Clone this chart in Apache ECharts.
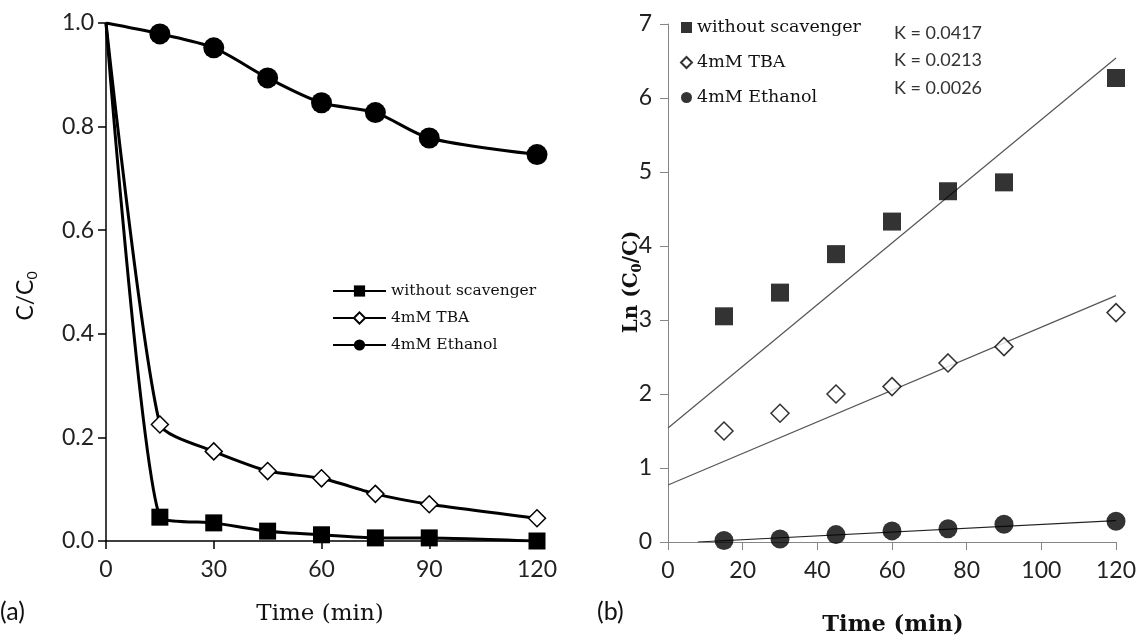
<!DOCTYPE html>
<html>
<head>
<meta charset="utf-8">
<script src="https://cdn.jsdelivr.net/npm/echarts@6/dist/echarts.min.js"></script>
<style>html,body{margin:0;padding:0;background:#fff;}#c{width:1141px;height:640px;}</style>
</head>
<body>
<div id="c"></div>
<script>
// ---- Panel (a): C/C0 vs time ----
var timeA = [0, 15, 30, 45, 60, 75, 90, 120];
var withoutA = [1.0, 0.046, 0.035, 0.019, 0.012, 0.006, 0.006, 0.0];
var tbaA = [1.0, 0.225, 0.173, 0.135, 0.121, 0.091, 0.071, 0.044];
var ethanolA = [1.0, 0.979, 0.952, 0.894, 0.846, 0.827, 0.778, 0.746];

// ---- Panel (b): Ln(C0/C) vs time ----
var timeB = [15, 30, 45, 60, 75, 90, 120];
var withoutB = [3.05, 3.37, 3.89, 4.33, 4.74, 4.86, 6.27];
var tbaB = [1.50, 1.74, 2.00, 2.10, 2.42, 2.64, 3.10];
var ethanolB = [0.02, 0.04, 0.10, 0.15, 0.18, 0.24, 0.28];
// trend line end points [t, value]
var trendWithout = [[0, 1.54], [120, 6.54]];
var trendTBA = [[0, 0.77], [120, 3.33]];
var trendEthanol = [[8, 0.0], [120, 0.29]];
var kLabels = ['K = 0.0417', 'K = 0.0213', 'K = 0.0026'];
var seriesNames = ['without scavenger', '4mM TBA', '4mM Ethanol'];

var SERIF = '"DejaVu Serif", serif';
var SANS = 'Lato, "Open Sans", sans-serif';

function pairsA(vals) {
  return timeA.map(function (t, i) {
    if (i === 0) return { value: [t, vals[i]], symbol: 'none' };
    return [t, vals[i]];
  });
}
function pairsB(vals) {
  return timeB.map(function (t, i) { return [t, vals[i]]; });
}

var chart = echarts.init(document.getElementById('c'));

var lineBase = {
  type: 'line', xAxisIndex: 0, yAxisIndex: 0, smooth: 0.2,
  lineStyle: { color: '#000', width: 3 }, itemStyle: { color: '#000' },
  showAllSymbol: true, silent: true, z: 3
};

var option = {
  animation: false,
  backgroundColor: '#fff',
  grid: [
    { left: 106, right: 604, top: 23, bottom: 99 },
    { left: 668, right: 25, top: 24, bottom: 98 }
  ],
  xAxis: [
    {
      type: 'value', gridIndex: 0, min: 0, max: 120, interval: 30,
      axisLine: { lineStyle: { color: '#000', width: 1.5 } },
      axisTick: { show: true, length: 8, lineStyle: { color: '#000', width: 1.5 } },
      axisLabel: { color: '#222', fontFamily: SANS, fontSize: 23, margin: 17 },
      splitLine: { show: false }
    },
    {
      type: 'value', gridIndex: 1, min: 0, max: 120, interval: 20,
      axisLine: { lineStyle: { color: '#868686', width: 1 } },
      axisTick: { show: true, length: 8, lineStyle: { color: '#868686', width: 1 } },
      axisLabel: { color: '#222', fontFamily: SANS, fontSize: 23, margin: 17 },
      splitLine: { show: false }
    }
  ],
  yAxis: [
    {
      type: 'value', gridIndex: 0, min: 0, max: 1, interval: 0.2,
      axisLine: { show: true, lineStyle: { color: '#000', width: 1.5 } },
      axisTick: { show: true, length: 8, lineStyle: { color: '#000', width: 1.5 } },
      axisLabel: { color: '#222', fontFamily: SANS, fontSize: 23, margin: 12,
        formatter: function (v) { return v.toFixed(1); } },
      splitLine: { show: false }
    },
    {
      type: 'value', gridIndex: 1, min: 0, max: 7, interval: 1,
      axisLine: { show: true, lineStyle: { color: '#868686', width: 1 } },
      axisTick: { show: true, length: 8, lineStyle: { color: '#868686', width: 1 } },
      axisLabel: { color: '#222', fontFamily: SANS, fontSize: 23, margin: 16 },
      splitLine: { show: false }
    }
  ],
  legend: [
    {
      orient: 'vertical', left: 332, top: 283, padding: 0, itemWidth: 53, itemHeight: 14, itemGap: 11,
      data: seriesNames.slice(),
      textStyle: { fontFamily: SERIF, fontSize: 15.5, color: '#111' },
      selectedMode: false
    },
    {
      orient: 'vertical', left: 680, top: 17, padding: 0, itemWidth: 11, itemHeight: 11, itemGap: 14,
      data: seriesNames.map(function (n) { return 'b:' + n; }),
      formatter: function (n) { return n.replace('b:', ''); },
      textStyle: { fontFamily: SERIF, fontSize: 17.5, color: '#111', lineHeight: 21 },
      selectedMode: false
    }
  ],
  series: [
    Object.assign({}, lineBase, { name: seriesNames[0], symbol: 'rect', symbolSize: 17, data: pairsA(withoutA) }),
    Object.assign({}, lineBase, { name: seriesNames[1], symbol: 'diamond', symbolSize: 17,
      itemStyle: { color: '#fff', borderColor: '#000', borderWidth: 1.5 }, data: pairsA(tbaA) }),
    Object.assign({}, lineBase, { name: seriesNames[2], symbol: 'circle', symbolSize: 21, smooth: 0.3, data: pairsA(ethanolA) }),

    { type: 'line', xAxisIndex: 1, yAxisIndex: 1, data: trendWithout, symbol: 'none', silent: true,
      lineStyle: { color: '#555', width: 1.2 }, z: 2 },
    { type: 'line', xAxisIndex: 1, yAxisIndex: 1, data: trendTBA, symbol: 'none', silent: true,
      lineStyle: { color: '#555', width: 1.2 }, z: 2 },
    { type: 'line', xAxisIndex: 1, yAxisIndex: 1, data: trendEthanol, symbol: 'none', silent: true,
      lineStyle: { color: '#222', width: 1.2 }, z: 2 },

    { type: 'scatter', name: 'b:' + seriesNames[0], xAxisIndex: 1, yAxisIndex: 1, symbol: 'rect', symbolSize: 18,
      itemStyle: { color: '#000' }, data: pairsB(withoutB), silent: true, z: 3 },
    { type: 'scatter', name: 'b:' + seriesNames[1], xAxisIndex: 1, yAxisIndex: 1, symbol: 'diamond', symbolSize: 18,
      itemStyle: { color: '#fff', borderColor: '#000', borderWidth: 1.5 }, data: pairsB(tbaB), silent: true, z: 3 },
    { type: 'scatter', name: 'b:' + seriesNames[2], xAxisIndex: 1, yAxisIndex: 1, symbol: 'circle', symbolSize: 19,
      itemStyle: { color: '#000' }, data: pairsB(ethanolB), silent: true, z: 3 }
  ],
  graphic: [
    { type: 'text', x: 0, y: 612, style: { text: '(a)', fontFamily: SANS, fontSize: 25, fill: '#111', verticalAlign: 'middle' } },
    { type: 'text', x: 597, y: 612, style: { text: '(b)', fontFamily: SANS, fontSize: 25, fill: '#111', verticalAlign: 'middle' } },
    { type: 'text', x: 320, y: 614, style: { text: 'Time (min)', fontFamily: SERIF, fontSize: 23, fill: '#111',
      align: 'center', verticalAlign: 'middle' } },
    { type: 'text', x: 893, y: 625, style: { text: 'Time (min)', fontFamily: SERIF, fontSize: 22.5, fontWeight: 'bold', fill: '#111',
      align: 'center', verticalAlign: 'middle' } },
    { type: 'text', x: 26, y: 296, rotation: Math.PI / 2, style: {
      text: '{a|C/C}{s|0}', align: 'center', verticalAlign: 'middle',
      rich: { a: { fontFamily: SANS, fontSize: 23, fill: '#111', lineHeight: 26 },
              s: { fontFamily: SANS, fontSize: 14, fill: '#111', lineHeight: 13, verticalAlign: 'bottom' } } } },
    { type: 'text', x: 632, y: 282, rotation: Math.PI / 2, style: {
      text: '{a|Ln (C}{s|0}{a|/C)}', align: 'center', verticalAlign: 'middle',
      rich: { a: { fontFamily: SERIF, fontSize: 20, fontWeight: 'bold', fill: '#111', lineHeight: 24 },
              s: { fontFamily: SERIF, fontSize: 13, fontWeight: 'bold', fill: '#111', lineHeight: 12, verticalAlign: 'bottom' } } } },
    { type: 'text', x: 894, y: 33, style: { text: kLabels[0], fontFamily: SANS, fontSize: 18, fill: '#333', verticalAlign: 'middle' } },
    { type: 'text', x: 894, y: 60, style: { text: kLabels[1], fontFamily: SANS, fontSize: 18, fill: '#333', verticalAlign: 'middle' } },
    { type: 'text', x: 894, y: 88, style: { text: kLabels[2], fontFamily: SANS, fontSize: 18, fill: '#333', verticalAlign: 'middle' } }
  ]
};
chart.setOption(option);
</script>
</body>
</html>
